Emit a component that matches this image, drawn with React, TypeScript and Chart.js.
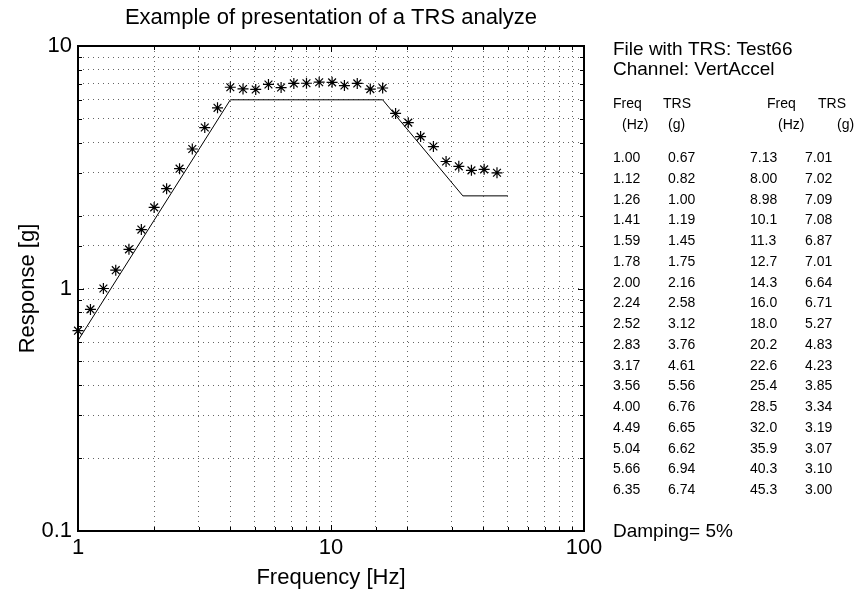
import React, { useEffect, useRef } from 'react';
import { Chart, registerables } from 'chart.js';
Chart.register(...registerables);

const TITLE = 'Example of presentation of a TRS analyze';
const X_TITLE = 'Frequency [Hz]';
const Y_TITLE = 'Response [g]';
const INFO_LINES = ['File with TRS: Test66', 'Channel: VertAccel'];
const DAMPING = 'Damping= 5%';

// Test response spectrum (stars + table)
const trsFreq = [1.00, 1.12, 1.26, 1.41, 1.59, 1.78, 2.00, 2.24, 2.52, 2.83, 3.17, 3.56, 4.00, 4.49, 5.04, 5.66, 6.35,
  7.13, 8.00, 8.98, 10.1, 11.3, 12.7, 14.3, 16.0, 18.0, 20.2, 22.6, 25.4, 28.5, 32.0, 35.9, 40.3, 45.3];
const trsValue = [0.67, 0.82, 1.00, 1.19, 1.45, 1.75, 2.16, 2.58, 3.12, 3.76, 4.61, 5.56, 6.76, 6.65, 6.62, 6.94, 6.74,
  7.01, 7.02, 7.09, 7.08, 6.87, 7.01, 6.64, 6.71, 5.27, 4.83, 4.23, 3.85, 3.34, 3.19, 3.07, 3.10, 3.00];

// Required response spectrum (solid line)
const rrsFreq = [1, 4, 16, 33.2, 50];
const rrsValue = [0.61, 6.0, 6.0, 2.41, 2.41];

const xTickLabels = [1, 10, 100];
const yTickLabels = [0.1, 1, 10];

const FONT = '"Liberation Sans", Arial, Helvetica, sans-serif';

export default function App() {
  const ref = useRef<HTMLCanvasElement | null>(null);

  useEffect(() => {
    const canvas = ref.current;
    if (!canvas) return;

    const decor = {
      id: 'decor',
      afterDraw(chart: any) {
        const ctx = chart.ctx as CanvasRenderingContext2D;
        const { left, right, top, bottom } = chart.chartArea;
        const xs = chart.scales.x;
        const ys = chart.scales.y;
        ctx.save();
        // inward tick marks
        ctx.strokeStyle = '#000';
        ctx.lineWidth = 1;
        ctx.beginPath();
        xs.ticks.forEach((t: any) => {
          const major = xTickLabels.includes(t.value);
          const len = major ? 6 : 4;
          const px = Math.round(xs.getPixelForValue(t.value)) + 0.5;
          ctx.moveTo(px, bottom); ctx.lineTo(px, bottom - len);
          ctx.moveTo(px, top); ctx.lineTo(px, top + len);
        });
        ys.ticks.forEach((t: any) => {
          const major = yTickLabels.some((v) => Math.abs(v - t.value) < 1e-9);
          const len = major ? 6 : 4;
          const py = Math.round(ys.getPixelForValue(t.value)) + 0.5;
          ctx.moveTo(left, py); ctx.lineTo(left + len, py);
          ctx.moveTo(right, py); ctx.lineTo(right - len, py);
        });
        ctx.stroke();
        // frame
        ctx.lineWidth = 2;
        ctx.strokeRect(left, top, right - left, bottom - top);

        // title
        ctx.fillStyle = '#000';
        ctx.font = `22px ${FONT}`;
        ctx.textAlign = 'center';
        ctx.textBaseline = 'alphabetic';
        ctx.fillText(TITLE, (left + right) / 2, 24);

        // info text
        ctx.textAlign = 'left';
        ctx.font = `19px ${FONT}`;
        ctx.fillText(INFO_LINES[0], 613, 55);
        ctx.fillText(INFO_LINES[1], 613, 75);

        // table
        ctx.font = `14px ${FONT}`;
        const colX = [613, 668, 750, 805];
        ctx.fillText('Freq', 613, 108);
        ctx.fillText('TRS', 663, 108);
        ctx.fillText('Freq', 767, 108);
        ctx.fillText('TRS', 818, 108);
        ctx.fillText('(Hz)', 622, 129);
        ctx.fillText('(g)', 668, 129);
        ctx.fillText('(Hz)', 778, 129);
        ctx.fillText('(g)', 837, 129);
        const half = Math.ceil(trsFreq.length / 2);
        for (let i = 0; i < trsFreq.length; i++) {
          const col = i < half ? 0 : 1;
          const row = i < half ? i : i - half;
          const y = 162 + row * 20.75;
          ctx.fillText(trsFreq[i].toPrecision(3), colX[col * 2], y);
          ctx.fillText(trsValue[i].toFixed(2), colX[col * 2 + 1], y);
        }

        ctx.font = `19px ${FONT}`;
        ctx.fillText(DAMPING, 613, 537);
        ctx.restore();
      },
    };

    const gridCommon = {
      color: 'rgba(0,0,0,0.6)',
      lineWidth: 1,
      drawTicks: false,
    };

    const chart = new Chart(canvas, {
      type: 'scatter',
      data: {
        datasets: [
          {
            type: 'line',
            label: 'RRS',
            data: rrsFreq.map((f, i) => ({ x: f, y: rrsValue[i] })),
            borderColor: '#000',
            borderWidth: 1,
            pointRadius: 0,
            fill: false,
            tension: 0,
          } as any,
          {
            label: 'TRS',
            data: trsFreq.map((f, i) => ({ x: f, y: trsValue[i] })),
            pointStyle: 'star',
            pointRadius: 5.5,
            borderColor: '#000',
            backgroundColor: '#000',
            borderWidth: 1.2,
            clip: false,
          } as any,
        ],
      },
      options: {
        responsive: false,
        animation: false,
        events: [],
        layout: { padding: { left: 0, top: 46, right: 272, bottom: 0 } },
        plugins: { legend: { display: false }, title: { display: false }, tooltip: { enabled: false } },
        scales: {
          x: {
            type: 'logarithmic',
            min: 1,
            max: 100,
            grid: gridCommon,
            border: { display: false, dash: [1, 4] },
            ticks: {
              autoSkip: false,
              maxRotation: 0,
              padding: 4,
              color: '#000',
              font: { family: FONT, size: 22 },
              callback: (v: any) => (xTickLabels.includes(Number(v)) ? String(v) : ''),
            },
            title: {
              display: true,
              text: X_TITLE,
              color: '#000',
              font: { family: FONT, size: 22 },
              padding: { top: 0, bottom: 3 },
            },
            afterFit: (s: any) => { s.height = 63; },
          },
          y: {
            type: 'logarithmic',
            min: 0.1,
            max: 10,
            grid: gridCommon,
            border: { display: false, dash: [1, 4] },
            ticks: {
              autoSkip: false,
              padding: 6,
              color: '#000',
              font: { family: FONT, size: 22 },
              callback: (v: any) => {
                const n = Number(v);
                return yTickLabels.some((t) => Math.abs(t - n) < 1e-9) ? String(n) : '';
              },
            },
            title: {
              display: true,
              text: Y_TITLE,
              color: '#000',
              font: { family: FONT, size: 22 },
              padding: { top: 15, bottom: 0 },
            },
            afterFit: (s: any) => { s.width = 78; },
          },
        },
      },
      plugins: [decor],
    });

    return () => chart.destroy();
  }, []);

  return (
    <div style={{ position: 'absolute', left: 0, top: 0, width: 856, height: 594, background: '#fff' }}>
      <canvas ref={ref} width={856} height={594} />
    </div>
  );
}
